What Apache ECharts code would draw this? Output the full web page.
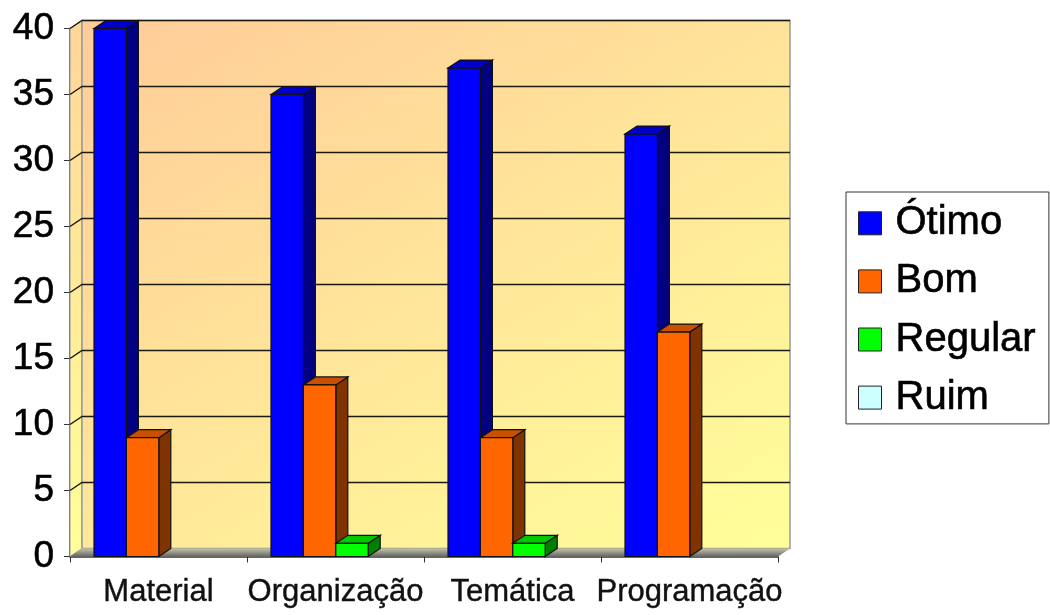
<!DOCTYPE html>
<html>
<head>
<meta charset="utf-8">
<style>
  html, body { margin: 0; padding: 0; background: #fff; }
  #main { width: 1050px; height: 615px; }
</style>
<script src="https://cdn.jsdelivr.net/npm/echarts@6/dist/echarts.min.js"></script>
</head>
<body>
<div id="main"></div>
<script>
var categories = ['Material', 'Organização', 'Temática', 'Programação'];
var otimo = [40, 35, 37, 32];
var bom = [9, 13, 9, 17];
var regular = [0, 1, 1, 0];
var ruim = [0, 0, 0, 0];
var yTicks = [5, 10, 15, 20, 25, 30, 35, 40];

// front / top / side colours of each 3d bar
var barColors = [
  { name: 'Ótimo', front: '#0000ff', top: '#0000c8', side: '#000080', data: otimo },
  { name: 'Bom', front: '#ff6600', top: '#c85000', side: '#7f3300', data: bom },
  { name: 'Regular', front: '#00ff00', top: '#00c800', side: '#008000', data: regular },
  { name: 'Ruim', front: '#ccffff', top: '#a3cccc', side: '#668080', data: ruim }
];

var depthX = 12;   // 3d offset
var depthY = 8;
var barWidth = 32.4;
var barStart = 24; // space from the category edge to the first bar

function renderWalls(params, api) {
  var cs = params.coordSys;
  var left = cs.x, right = cs.x + cs.width;
  var bottom = api.coord([0, 0])[1], top = api.coord([0, 40])[1];
  var children = [];
  // side wall
  children.push({
    type: 'polygon',
    shape: { points: [[left, bottom], [left + depthX, bottom - depthY], [left + depthX, top - depthY], [left, top]] },
    style: {
      fill: new echarts.graphic.LinearGradient(0, 0, 0, 1, [
        { offset: 0, color: '#ffd699' }, { offset: 1, color: '#ffff99' }
      ]),
      stroke: '#999999', lineWidth: 1
    }
  });
  // back wall
  children.push({
    type: 'rect',
    shape: { x: left + depthX, y: top - depthY, width: cs.width, height: bottom - top },
    style: {
      fill: new echarts.graphic.LinearGradient(0, 0, 0.597, 1.326, [
        { offset: 0, color: '#ffcc99' }, { offset: 1, color: '#ffff99' }
      ]),
      stroke: '#999999', lineWidth: 1.5
    }
  });
  // floor
  children.push({
    type: 'polygon',
    shape: { points: [[left, bottom], [left + depthX, bottom - depthY], [right + depthX, bottom - depthY], [right, bottom]] },
    style: {
      fill: new echarts.graphic.LinearGradient(0, 0, 0, 1, [
        { offset: 0, color: '#c4c4a4' }, { offset: 1, color: '#666666' }
      ])
    }
  });
  // grid lines run along the side wall and the back wall
  yTicks.forEach(function (t) {
    var y = api.coord([0, t])[1];
    children.push({
      type: 'polyline',
      shape: { points: [[left, y], [left + depthX, y - depthY], [right + depthX, y - depthY]] },
      style: { stroke: '#1a1a10', lineWidth: 1.5, fill: null }
    });
  });
  return { type: 'group', children: children };
}

function renderBar(params, api) {
  var value = api.value(1);
  if (!value) return null;
  var c = barColors[params.seriesIndex - 1];
  var band = api.size([1, 0])[0];
  var p = api.coord([api.value(0), value]);
  var x0 = p[0] - band / 2 + barStart + (params.seriesIndex - 1) * barWidth;
  var x1 = x0 + barWidth;
  var yTop = p[1];
  var yBottom = api.coord([api.value(0), 0])[1];
  var edge = { stroke: '#111111', lineWidth: 1.2 };
  return {
    type: 'group',
    children: [
      {
        type: 'polygon',
        shape: { points: [[x1, yBottom], [x1 + depthX, yBottom - depthY], [x1 + depthX, yTop - depthY], [x1, yTop]] },
        style: Object.assign({ fill: c.side }, edge)
      },
      {
        type: 'polygon',
        shape: { points: [[x0, yTop], [x0 + depthX, yTop - depthY], [x1 + depthX, yTop - depthY], [x1, yTop]] },
        style: Object.assign({ fill: c.top }, edge)
      },
      {
        type: 'rect',
        shape: { x: x0, y: yTop, width: barWidth, height: yBottom - yTop },
        style: Object.assign({ fill: c.front }, edge)
      }
    ]
  };
}

var series = [{
  name: 'walls',
  type: 'custom',
  silent: true,
  renderItem: renderWalls,
  data: [[0, 0]],
  z: 1
}];
barColors.forEach(function (c) {
  series.push({
    name: c.name,
    type: 'custom',
    renderItem: renderBar,
    encode: { x: 0, y: 1 },
    itemStyle: { color: c.front },
    data: c.data.map(function (v, i) { return [i, v]; }),
    z: 3
  });
});

var option = {
  animation: false,
  backgroundColor: '#ffffff',
  textStyle: { fontFamily: 'Liberation Sans' },
  grid: { left: 70, right: 272, top: 28.5, bottom: 58.5 },
  legend: {
    data: ['Ótimo', 'Bom', 'Regular', 'Ruim'],
    orient: 'vertical',
    left: 846,
    top: 192,
    padding: [11, 13, 6, 12],
    icon: 'rect',
    itemWidth: 23,
    itemHeight: 23,
    itemGap: 17.5,
    backgroundColor: '#ffffff',
    borderColor: '#333333',
    borderWidth: 1,
    itemStyle: { borderColor: '#222222', borderWidth: 1 },
    textStyle: {
      fontFamily: 'Liberation Sans', fontSize: 40, color: '#000000',
      textBorderColor: '#000000', textBorderWidth: 0.6,
      padding: [0, 0, 0, 9]
    }
  },
  xAxis: {
    type: 'category',
    data: categories,
    axisLine: { lineStyle: { color: '#333333', width: 1.5 } },
    axisTick: { show: true, length: 6, lineStyle: { color: '#333333' } },
    axisLabel: {
      fontSize: 31, color: '#111111', margin: 20, interval: 0, hideOverlap: false,
      textBorderColor: '#111111', textBorderWidth: 0.4
    }
  },
  yAxis: {
    type: 'value',
    min: 0,
    max: 40,
    interval: 5,
    splitLine: { show: false },
    axisLine: { show: true, lineStyle: { color: '#333333', width: 1.5 } },
    axisTick: { show: true, length: 6, lineStyle: { color: '#333333' } },
    axisLabel: {
      fontSize: 37, color: '#000000', margin: 16,
      textBorderColor: '#000000', textBorderWidth: 0.6
    }
  },
  series: series
};

var myChart = echarts.init(document.getElementById('main'));
myChart.setOption(option);
</script>
</body>
</html>
